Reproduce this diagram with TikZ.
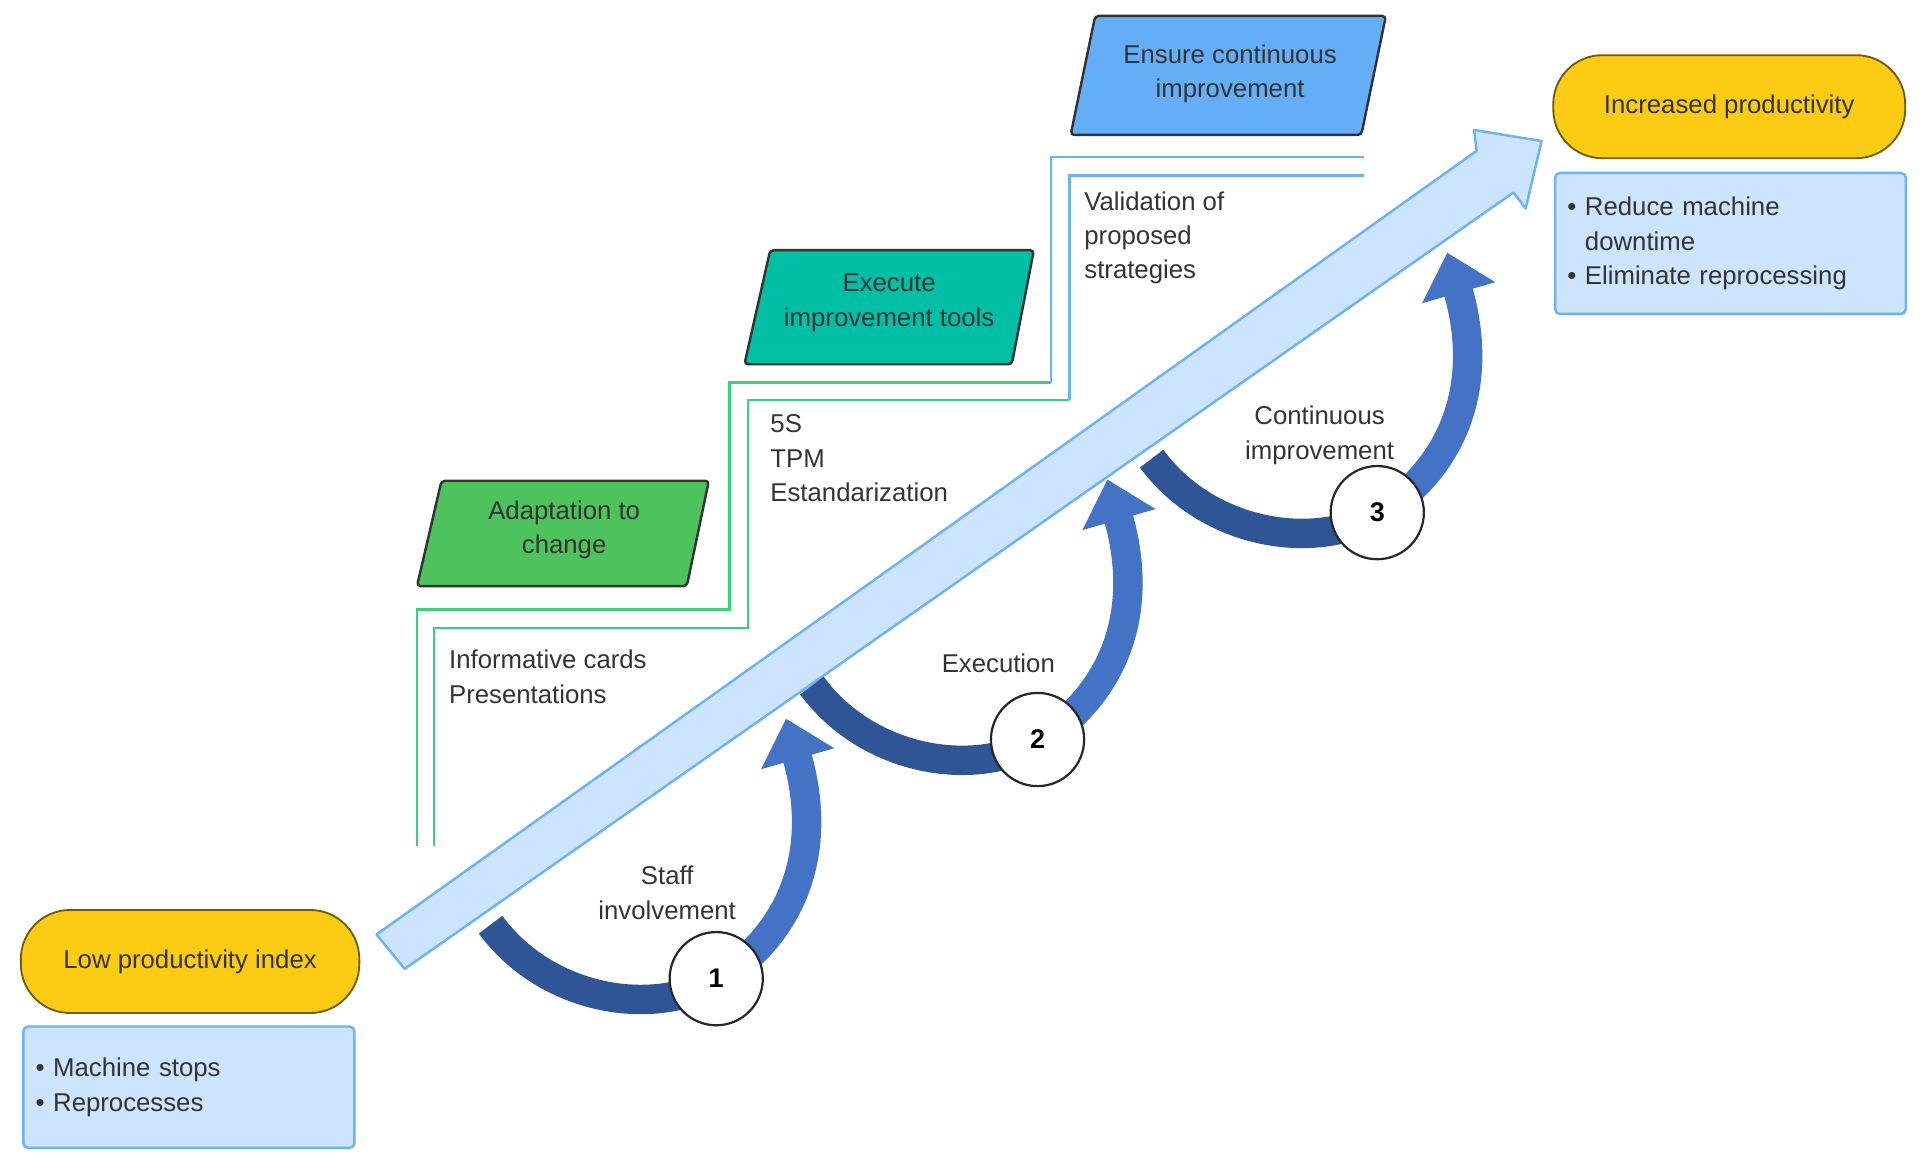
\documentclass[tikz,border=0pt]{standalone}
\usepackage{fontspec}
\setmainfont{Liberation Sans}
\usetikzlibrary{arrows.meta}
\definecolor{yel}{HTML}{FCCB14}
\definecolor{lb}{HTML}{CCE4FD}
\definecolor{lbd}{HTML}{6CB2F6}
\definecolor{grn}{HTML}{4EC25C}
\definecolor{teal}{HTML}{00BFA5}
\definecolor{blu}{HTML}{64AEF7}
\definecolor{dk}{HTML}{2F5597}
\definecolor{md}{HTML}{4472C4}
\definecolor{txt}{HTML}{333333}
\definecolor{gl}{HTML}{3ACF7A}
\tikzset{
 every node/.style={font=\fontsize{21}{28}\selectfont, text=txt},
 stad/.style={draw=black!55!yel, line width=1.5pt, fill=yel, rounded corners=40pt, minimum width=276pt, minimum height=84pt, inner sep=0pt},
 box/.style={draw=lbd, line width=2pt, fill=lb, rounded corners=4pt, align=left, anchor=north west, inner sep=10pt},
 para/.style={draw=black!80, line width=2pt, rounded corners=3pt},
 num/.style={circle, draw=black!85, line width=1.8pt, fill=white, minimum size=76pt, inner sep=0pt, font=\fontsize{22}{24}\selectfont\bfseries, text=black},
 band/.style={line width=24pt, draw=dk},
 bandh/.style={line width=24pt, draw=md, -{Triangle[length=34pt,width=60pt]}},
 stair/.style={draw=gl, line width=2pt},
 stairb/.style={draw=lbd, line width=2pt},
 lbl/.style={align=left, anchor=north west, inner sep=0pt},
}
\begin{document}
\begin{tikzpicture}[x=1pt,y=-1pt]
\useasboundingbox (0,0) rectangle (1568,952);
% staircase lines
\draw[stair] (340,690) -- (340,497) -- (595,497) -- (595,312) -- (857,312);
\draw[stairb] (857,312) -- (857,128) -- (1112,128);
\draw[stair] (354,690) -- (354,512) -- (610,512) -- (610,326) -- (872,326);
\draw[stairb] (872,326) -- (872,143) -- (1112,143);
% main arrow
\draw[draw=lbd, fill=lb, line width=2pt, line join=round]
 (307,762) -- (1204,123) -- (1202,106) -- (1257,115) -- (1244,170) -- (1234,157) -- (330,790) -- cycle;
% parallelograms
\draw[para, fill=grn] (360,392) -- (578,392) -- (560,478) -- (340,478) -- cycle;
\node[align=center] (adapt) at (460,432) {Adaptation to\\change};
\draw[para, fill=teal] (628,204) -- (843,204) -- (825,297) -- (607,297) -- cycle;
\node[align=center] (exec) at (725,247) {Execute\\improvement tools};
\draw[para, fill=blu] (893,13) -- (1130,13) -- (1110,110) -- (873,110) -- cycle;
\node[align=center] (ensure) at (1003,60) {Ensure continuous\\improvement};
% side texts
\node[lbl] (t1) at (366,530) {Informative cards\\Presentations};
\node[lbl] (t2) at (628,338) {5S\\TPM\\Estandarization};
\node[lbl] (t3) at (884,156) {Validation of\\proposed\\strategies};
% curved arrows
\foreach \cx/\cy/\n/\nm in {584/798/1/c1, 846/603/2/c2, 1123/418/3/c3}{
 \begin{scope}[shift={(\cx,\cy)}]
  \draw[band] (-184,-44) .. controls (-139,17) and (-54,32) .. (0,2);
  \draw[bandh] (24,-16) .. controls (71,-58) and (84,-118) .. (57,-212);
  \node[num] (\nm) at (0,0) {\n};
 \end{scope}
}
\node[align=center] (l1) at (544,728) {Staff\\involvement};
\node (l2) at (814,541) {Execution};
\node[align=center] (l3) at (1076,355) {Continuous\\improvement};
% start / end
\node[stad] (low) at (155,784) {Low productivity index};
\node[box, minimum width=270pt, minimum height=99pt, text width=250pt] (lowb) at (18,836) {\textbullet\ Machine stops\\\textbullet\ Reprocesses};
\node[stad, minimum width=287pt] (high) at (1410,87) {Increased productivity};
\node[box, minimum width=286pt, minimum height=115pt, text width=266pt] (highb) at (1267,140) {\textbullet\ Reduce machine\\\phantom{\textbullet\ }downtime\\\textbullet\ Eliminate reprocessing};
\end{tikzpicture}
\end{document}
